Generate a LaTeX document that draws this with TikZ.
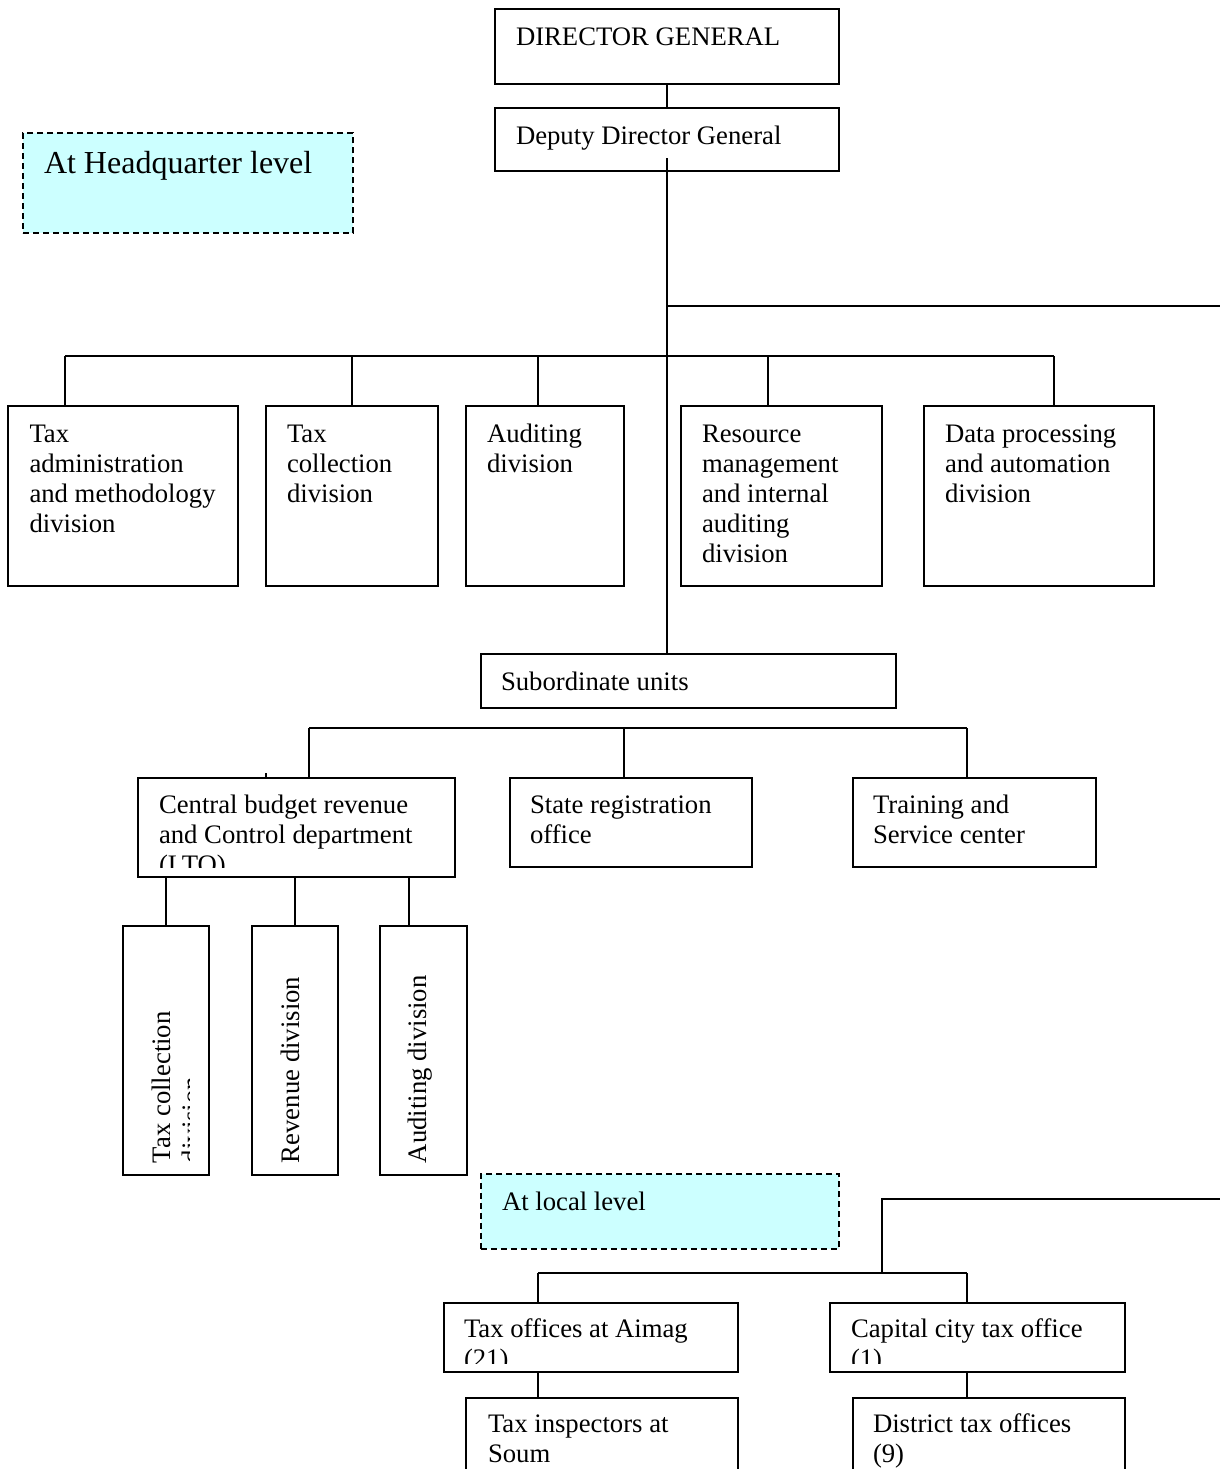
\documentclass[tikz,border=0pt]{standalone}
\usepackage{fontspec}
\setmainfont{Liberation Serif}
\definecolor{lcyan}{HTML}{CCFFFF}
\tikzset{
  box/.style={draw, line width=0.7pt, inner sep=0pt, outer sep=0pt, anchor=north west},
  lvlbox/.style={box, fill=lcyan, line width=0.9pt, dash pattern=on 3pt off 2pt},
  txt/.style={anchor=base west, inner sep=0pt, outer sep=0pt, font=\fontsize{13.35}{15}\selectfont},
  bigtxt/.style={txt, font=\fontsize{16}{19}\selectfont},
  conn/.style={line width=0.6pt},
}
% box: name, x1, y1, x2, y2 (pixel coordinates)
\newcommand\bx[6][box]{\node[#1, minimum width={(#5-#3)*0.5pt}, minimum height={(#6-#4)*0.5pt}] (#2) at (#3,#4) {};}
% text lines: name prefix, x, first baseline, lines
\newcommand\tl[4]{\foreach \s [count=\i from 0] in {#4} {\node[txt] (#1\i) at (#2,{#3+30*\i}) {\s};}}
\begin{document}
\begin{tikzpicture}[x=0.5pt, y=-0.5pt]
\useasboundingbox (0,0) rectangle (1220,1469);

% top
\bx{dg}{495}{9}{839}{84}
\node[txt] (dgt) at (516,45) {DIRECTOR GENERAL};
\bx{dep}{495}{108}{839}{171}
\node[txt] (dept) at (516,144) {Deputy Director General};
\bx[lvlbox]{hql}{23}{133}{353}{233}
\node[bigtxt] (hqlt) at (44,173) {At Headquarter level};

% divisions
\bx{tad}{8}{406}{238}{586}
\tl{tadt}{29.5}{442}{Tax,administration,and methodology,division}
\bx{tcd}{266}{406}{438}{586}
\tl{tcdt}{287}{442}{Tax,collection,division}
\bx{aud}{466}{406}{624}{586}
\tl{audt}{487}{442}{Auditing,division}
\bx{rmd}{681}{406}{882}{586}
\tl{rmdt}{702}{442}{Resource,management,and internal,auditing,division}
\bx{dpd}{924}{406}{1154}{586}
\tl{dpdt}{945}{442}{Data processing,and automation,division}

% subordinate
\bx{sub}{481}{654}{896}{708}
\node[txt] (subt) at (501,690) {Subordinate units};

\bx{cbr}{138}{778}{455}{877}
\begin{scope}
\clip (138,778) rectangle (455,867);
\tl{cbrt}{159}{813}{Central budget revenue,and Control department,(LTO)}
\end{scope}
\bx{srg}{510}{778}{752}{867}
\tl{srgt}{530}{813}{State registration,office}
\bx{tsc}{853}{778}{1096}{867}
\tl{tsct}{873}{813}{Training and,Service center}

% rotated boxes
\bx{ra}{123}{926}{209}{1175}
\bx{rb}{252}{926}{338}{1175}
\bx{rc}{380}{926}{467}{1175}
\begin{scope}
\clip (123,926) rectangle (189,1175);
\node[txt, rotate=90] (rat0) at (170,1163) {Tax collection};
\node[txt, rotate=90] (rat1) at (200,1163) {division};
\end{scope}
\node[txt, rotate=90] (rbt) at (299,1163) {Revenue division};
\node[txt, rotate=90] (rct) at (426,1163) {Auditing division};

% local level
\bx[lvlbox]{lol}{481}{1174}{839}{1249}
\node[txt] (lolt) at (502,1210) {At local level};

\bx{tao}{444}{1303}{738}{1372}
\begin{scope}
\clip (444,1303) rectangle (738,1363);
\tl{taot}{464}{1337}{Tax offices at Aimag,(21)}
\end{scope}
\bx{cct}{830}{1303}{1125}{1372}
\begin{scope}
\clip (830,1303) rectangle (1125,1363);
\tl{cctt}{851}{1337}{Capital city tax office,(1)}
\end{scope}
\bx{tis}{466}{1398}{738}{1500}
\tl{tist}{488}{1432}{Tax inspectors at,Soum}
\bx{dto}{853}{1398}{1125}{1500}
\tl{dtot}{873}{1432}{District tax offices,(9)}

% connectors
\draw[conn] (dg.south) -- (dep.north);
\coordinate (trk) at (667,158);
\draw[conn] (trk) -- (trk |- sub.north);
\coordinate (re1) at (1220,306);
\draw[conn] (trk |- re1) -- (re1);
\coordinate (b1l) at (65,356);
\coordinate (b1r) at (1054,356);
\draw[conn] (b1l) -- (b1r);
\draw[conn] (tad.north west) ++(57,0) -- ++(0,-50);
\draw[conn] (tcd.north west) ++(86,0) -- ++(0,-50);
\draw[conn] (aud.north west) ++(72,0) -- ++(0,-50);
\draw[conn] (rmd.north west) ++(87,0) -- ++(0,-50);
\draw[conn] (dpd.north west) ++(130,0) -- ++(0,-50);

\coordinate (b2l) at (309,728);
\coordinate (b2r) at (967,728);
\draw[conn] (b2l) -- (b2r);
\draw[conn] (cbr.north west) ++(171,0) -- ++(0,-50);
\draw[conn] (srg.north west) ++(114,0) -- ++(0,-50);
\draw[conn] (tsc.north west) ++(114,0) -- ++(0,-50);
\coordinate (tick) at (266,773);
\draw[conn] (tick) -- (tick |- cbr.north);

\draw[conn] (ra.north) -- (ra.north |- cbr.south);
\draw[conn] (rb.north) -- (rb.north |- cbr.south);
\draw[conn] (cbr.south west) ++(271,0) -- ++(0,49);

\coordinate (re2) at (1220,1199);
\coordinate (lj) at (882,1199);
\coordinate (b3l) at (538,1273);
\coordinate (b3r) at (967,1273);
\draw[conn] (re2) -- (lj) -- (lj |- b3l);
\draw[conn] (b3l) -- (b3r);
\draw[conn] (tao.north west) ++(94,0) -- ++(0,-30);
\draw[conn] (cct.north west) ++(137,0) -- ++(0,-30);
\draw[conn] (tao.south west) ++(94,0) -- ++(0,26);
\draw[conn] (cct.south west) ++(137,0) -- ++(0,26);
\end{tikzpicture}
\end{document}
